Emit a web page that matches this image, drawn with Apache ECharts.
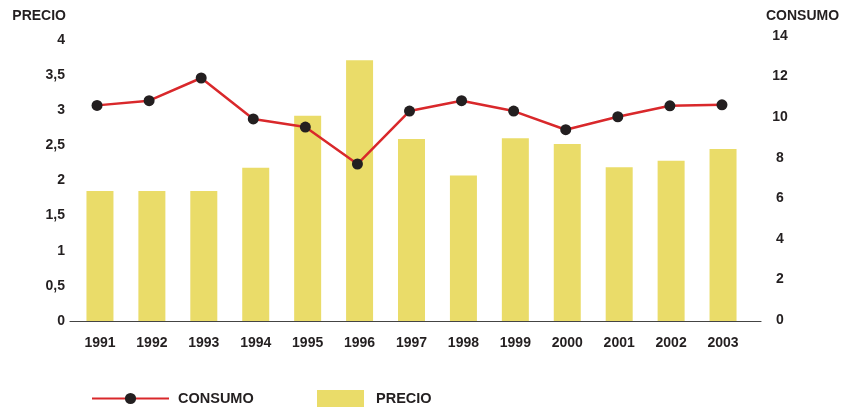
<!DOCTYPE html>
<html><head><meta charset="utf-8">
<script src="https://cdn.jsdelivr.net/npm/echarts@6/dist/echarts.min.js"></script>
<style>html,body{margin:0;padding:0;background:#fff}#c{width:852px;height:408px}</style>
</head><body><div id="c"></div>
<script>
const years = ['1991','1992','1993','1994','1995','1996','1997','1998','1999','2000','2001','2002','2003'];
const precio = [1.85,1.85,1.85,2.18,2.92,3.71,2.59,2.07,2.60,2.52,2.19,2.28,2.45];
const consumo = [10.58,10.81,11.93,9.91,9.51,7.69,10.30,10.81,10.30,9.38,10.02,10.56,10.61];
const precioTicks = ['0','0,5','1','1,5','2','2,5','3','3,5','4'];

const FONT = 'Liberation Sans';
const TXT = '#231f20';
const FS = 14;
const chart = echarts.init(document.getElementById('c'));
chart.setOption({
  animation: false,
  backgroundColor: '#fff',
  textStyle: {fontFamily: FONT},
  grid: [
    {left: 74, right: 103, top: 40, bottom: 87},
    {left: 71, right: 104, top: 36, bottom: 88},
    {left: 70, right: 91, top: 40, bottom: 87}
  ],
  legend: [
    {data: ['CONSUMO'], left: 91, top: 391, padding: 0, itemWidth: 77, itemHeight: 14, itemGap: 0,
     textStyle: {fontFamily: FONT, fontWeight: 'bold', fontSize: 14.5, color: TXT, padding: [0,0,0,4]}},
    {data: [{name: 'PRECIO', icon: 'rect'}], left: 317, top: 390, padding: 0, itemWidth: 47, itemHeight: 17,
     textStyle: {fontFamily: FONT, fontWeight: 'bold', fontSize: 14.5, color: TXT, padding: [0,0,0,7]}}
  ],
  xAxis: [
    {type: 'category', gridIndex: 0, data: years,
     axisLine: {show: false}, axisTick: {show: false},
     axisLabel: {fontFamily: FONT, fontWeight: 'bold', fontSize: FS, color: TXT, margin: 15}},
    {type: 'category', gridIndex: 1, data: years, show: false},
    {type: 'value', gridIndex: 2, min: 0, max: 1, splitLine: {show: false},
     axisLine: {show: true, onZero: false, lineStyle: {color: '#444', width: 1.2}},
     axisTick: {show: false}, axisLabel: {show: false}}
  ],
  yAxis: [
    {type: 'value', gridIndex: 0, min: 0, max: 4, interval: 0.5,
     name: 'PRECIO', nameLocation: 'end', nameGap: 17,
     nameTextStyle: {fontFamily: FONT, fontWeight: 'bold', fontSize: FS, color: TXT, align: 'right', padding: [0, 8, 0, 0]},
     splitLine: {show: false}, axisLine: {show: false}, axisTick: {show: false},
     axisLabel: {fontFamily: FONT, fontWeight: 'bold', fontSize: FS, color: TXT, margin: 9,
       formatter: (v) => precioTicks[Math.round(v / 0.5)]}},
    {type: 'value', gridIndex: 1, position: 'right', min: 0, max: 14, interval: 2,
     name: 'CONSUMO', nameLocation: 'end', nameGap: 13,
     nameTextStyle: {fontFamily: FONT, fontWeight: 'bold', fontSize: FS, color: TXT, align: 'left', padding: [0, 0, 0, 18]},
     splitLine: {show: false}, axisLine: {show: false}, axisTick: {show: false},
     axisLabel: {fontFamily: FONT, fontWeight: 'bold', fontSize: FS, color: TXT, margin: 32, align: 'center'}},
    {type: 'value', gridIndex: 2, show: false, min: 0, max: 1}
  ],
  series: [
    {name: 'PRECIO', type: 'bar', xAxisIndex: 0, yAxisIndex: 0, data: precio, barWidth: 27,
     itemStyle: {color: '#eadc69'}},
    {name: 'CONSUMO', type: 'line', xAxisIndex: 1, yAxisIndex: 1, data: consumo,
     symbol: 'circle', symbolSize: 11,
     lineStyle: {color: '#d9282b', width: 2.5},
     itemStyle: {color: '#231f20'}}
  ]
});
</script></body></html>
